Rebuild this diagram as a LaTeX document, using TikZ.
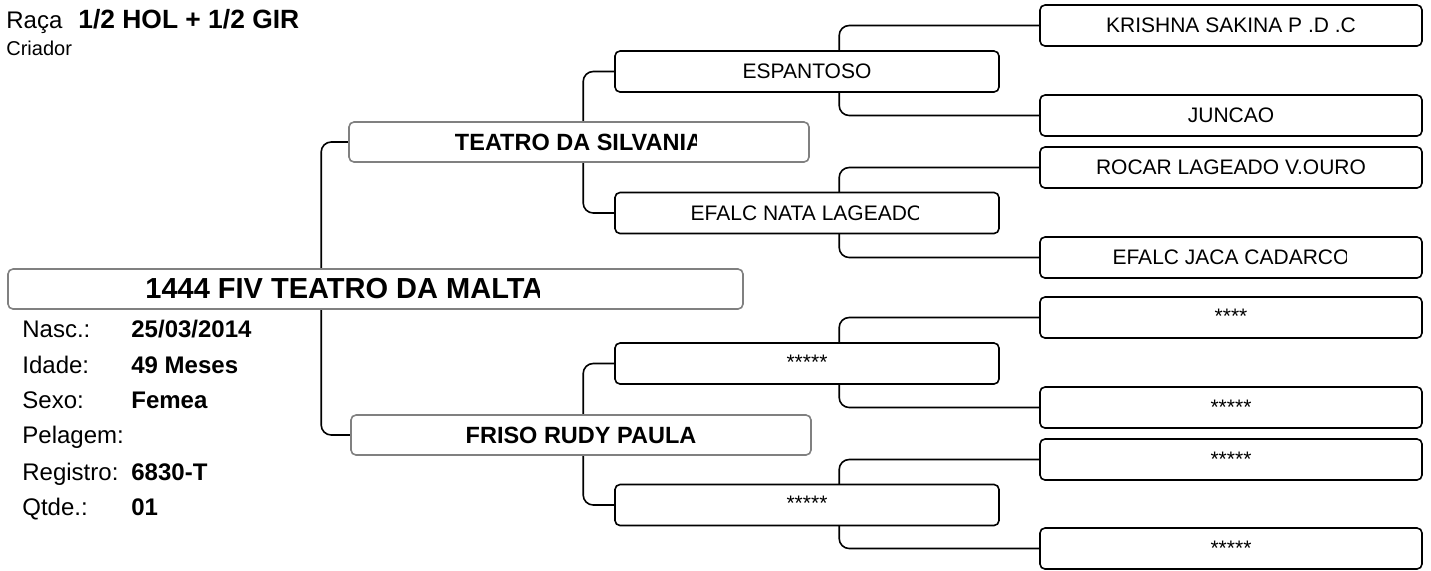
\documentclass[tikz,border=0pt]{standalone}
\usepackage{fontspec}
\setmainfont{Liberation Sans}
\usetikzlibrary{backgrounds}
\begin{document}
\begin{tikzpicture}[x=0.5pt,y=-0.5pt,
  box/.style={draw,fill=white,rounded corners=2.5pt,line width=0.8pt,inner sep=0pt,anchor=center},
  grbox/.style={box,draw=black!50},
  rootbox/.style={grbox,minimum width=367.5pt,minimum height=20pt},
  parbox/.style={grbox,minimum width=230pt,minimum height=20pt,font=\fontsize{11.75}{14}\selectfont\bfseries},
  gpbox/.style={box,minimum width=192pt,minimum height=20.5pt,font=\fontsize{10.5}{12}\selectfont},
  ggpbox/.style={box,minimum width=191pt,minimum height=20.5pt,font=\fontsize{10.5}{12}\selectfont},
  cliptext/.style={inner sep=0pt,anchor=center},
  stars/.style={anchor=base,inner sep=0pt,font=\fontsize{10.5}{12}\selectfont},
  conn/.style={line width=0.8pt,rounded corners=5pt},
  lbl/.style={anchor=base west,inner sep=0pt,font=\fontsize{12}{14}\selectfont},
  val/.style={lbl,font=\fontsize{12}{14}\selectfont\bfseries}]
\useasboundingbox (0,0) rectangle (1431,570);

% header
\node[lbl] (raca) at (6,28) {Raça};
\node[val,font=\fontsize{13.2}{15}\selectfont\bfseries] (raca v) at (78,28) {1/2 HOL + 1/2 GIR};
\node[lbl,font=\fontsize{10}{12}\selectfont] (criador) at (6,55) {Criador};

% generation 3
\node[ggpbox] (g1) at (1231,25.5) {KRISHNA SAKINA P .D .C};
\node[ggpbox] (g2) at (1231,115.5) {JUNCAO};
\node[ggpbox] (g3) at (1231,167.5) {ROCAR LAGEADO V.OURO};
\node[ggpbox] (g4) at (1231,257.5) {};
\begin{scope}
\clip (g4.south west) rectangle ([xshift=307*0.5pt]g4.north west);
\node[cliptext,font=\fontsize{10.5}{12}\selectfont] (g4 text) at (g4.center) {EFALC JACA CADARCO};
\end{scope}
\node[ggpbox] (g5) at (1231,317.5) {};
\node[ggpbox] (g6) at (1231,407.5) {};
\node[ggpbox] (g7) at (1231,459.5) {};
\node[ggpbox] (g8) at (1231,548.5) {};
\node[stars] (s5) at ([yshift=-27*0.5pt]g5.north) {****};
\node[stars] (s6) at ([yshift=-28*0.5pt]g6.north) {*****};
\node[stars] (s7) at ([yshift=-28*0.5pt]g7.north) {*****};
\node[stars] (s8) at ([yshift=-28*0.5pt]g8.north) {*****};

% generation 2
\node[gpbox] (p1) at (807,71.5) {ESPANTOSO};
\node[gpbox] (p2) at (807,213) {};
\begin{scope}
\clip (p2.south west) rectangle ([xshift=304*0.5pt]p2.north west);
\node[cliptext,font=\fontsize{10.5}{12}\selectfont] (p2 text) at (p2.center) {EFALC NATA LAGEADO};
\end{scope}
\node[gpbox] (p3) at (807,363.5) {};
\node[gpbox] (p4) at (807,505) {};
\node[stars] (t3) at ([yshift=-27*0.5pt]p3.north) {*****};
\node[stars] (t4) at ([yshift=-27*0.5pt]p4.north) {*****};

% generation 1
\node[parbox] (sire) at (579,142) {};
\begin{scope}
\clip (sire.south west) rectangle ([xshift=348*0.5pt]sire.north west);
\node[cliptext,font=\fontsize{11.75}{14}\selectfont\bfseries] (sire text) at (sire.center) {TEATRO DA SILVANIA};
\end{scope}
\node[parbox] (dam) at (581,435) {FRISO RUDY PAULA};

% root
\node[rootbox] (root) at (375.5,289) {};
\begin{scope}
\clip (root.south west) rectangle ([xshift=532*0.5pt]root.north west);
\node[cliptext,anchor=west,font=\fontsize{14.5}{17}\selectfont\bfseries] (root text) at (145,289) {1444 FIV TEATRO DA MALTA};
\end{scope}

% connectors
\begin{scope}[on background layer]
\draw[conn] (sire.west) -- ++(-27,0) |- (dam.west);
\draw[conn] (p1.west) -- ++(-31,0) |- (p2.west);
\draw[conn] (p3.west) -- ++(-31,0) |- (p4.west);
\draw[conn] (g1.west) -- ++(-200,0) |- (g2.west);
\draw[conn] (g3.west) -- ++(-200,0) |- (g4.west);
\draw[conn] (g5.west) -- ++(-200,0) |- (g6.west);
\draw[conn] (g7.west) -- ++(-200,0) |- (g8.west);
\end{scope}

% info
\node[lbl] (l1) at (22,337) {Nasc.:};
\node[lbl] (l2) at (22,373) {Idade:};
\node[lbl] (l3) at (22,408) {Sexo:};
\node[lbl] (l4) at (22,443) {Pelagem:};
\node[lbl] (l5) at (22,480) {Registro:};
\node[lbl] (l6) at (22,515) {Qtde.:};
\node[val] (v1) at (131,337) {25/03/2014};
\node[val] (v2) at (131,373) {49 Meses};
\node[val] (v3) at (131,408) {Femea};
\node[val] (v5) at (131,480) {6830-T};
\node[val] (v6) at (131,515) {01};
\end{tikzpicture}
\end{document}
